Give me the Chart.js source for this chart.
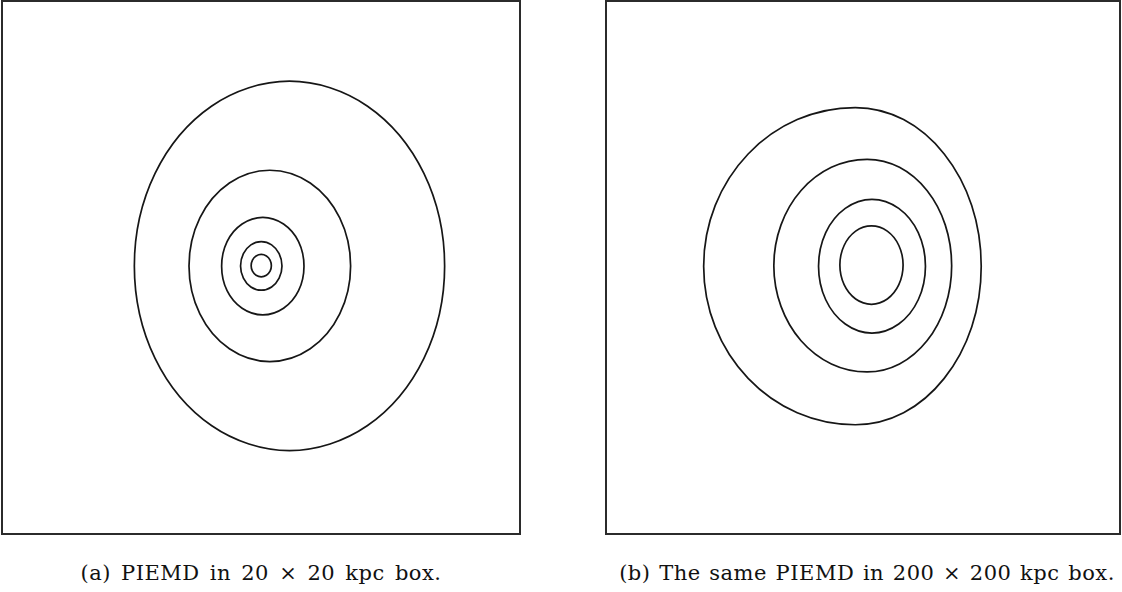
<!DOCTYPE html>
<html>
<head>
<meta charset="utf-8">
<script src="https://cdn.jsdelivr.net/npm/chart.js@4"></script>
<style>
  body { margin: 0; background: #fff; width: 1122px; height: 592px; position: relative; overflow: hidden; }
  canvas { position: absolute; top: 0; }
  #chartA { left: 0; }
  #chartB { left: 604px; }
  .caption {
    position: absolute; top: 561px; width: 520px; text-align: center;
    font-family: "DejaVu Serif", serif; font-size: 21px; line-height: 24px; color: #111;
    letter-spacing: 0.5px; word-spacing: 3px; white-space: nowrap;
  }
</style>
</head>
<body>
<canvas id="chartA" width="522" height="536"></canvas>
<canvas id="chartB" width="518" height="536"></canvas>
<div class="caption" style="left:1px">(a) PIEMD in 20 × 20 kpc box.</div>
<div class="caption" style="left:607px; word-spacing:1.5px">(b) The same PIEMD in 200 × 200 kpc box.</div>

<script>
// panel (a): 20 x 20 kpc box, contour levels (kpc)
const boxA = [-10, 10];
const aLevel1 = [[7.09, 0.06], [6.29, 3.53], [4.10, 6.06], [1.10, 6.99], [-1.90, 6.06], [-4.09, 3.53],
  [-4.89, 0.06], [-4.09, -3.41], [-1.90, -5.94], [1.10, -6.87], [4.10, -5.94], [6.29, -3.41]];
const aLevel2 = [[3.46, 0.06], [3.04, 1.86], [1.90, 3.17], [0.34, 3.65], [-1.22, 3.17], [-2.36, 1.86],
  [-2.78, 0.06], [-2.36, -1.74], [-1.22, -3.05], [0.34, -3.53], [1.90, -3.05], [3.04, -1.74]];
const aLevel3 = [[1.66, 0.05], [1.45, 0.97], [0.87, 1.63], [0.07, 1.88], [-0.73, 1.63], [-1.31, 0.97],
  [-1.52, 0.05], [-1.31, -0.87], [-0.73, -1.53], [0.07, -1.78], [0.87, -1.53], [1.45, -0.87]];
const aLevel4 = [[0.81, 0.06], [0.70, 0.52], [0.41, 0.85], [0.01, 0.97], [-0.39, 0.85], [-0.68, 0.52],
  [-0.79, 0.06], [-0.68, -0.40], [-0.39, -0.73], [0.01, -0.85], [0.41, -0.73], [0.70, -0.40]];
const aLevel5 = [[0.40, 0.07], [0.35, 0.28], [0.21, 0.43], [0.01, 0.49], [-0.19, 0.43], [-0.33, 0.28],
  [-0.38, 0.07], [-0.33, -0.14], [-0.19, -0.29], [0.01, -0.35], [0.21, -0.29], [0.35, -0.14]];

// panel (b): same profile in a 200 x 200 kpc box
const boxB = [-100, 100];
const bLevel1 = [[46.0, 0.5], [42.3, 23.3], [31.6, 42.6], [15.8, 55.5], [-3.0, 60.0], [-25.6, 55.5],
  [-44.7, 42.6], [-57.5, 23.3], [-62.0, 0.5], [-57.5, -22.3], [-44.7, -41.6], [-25.6, -54.5],
  [-3.0, -59.0], [15.8, -54.5], [31.6, -41.6], [42.3, -22.3]];
const bLevel2 = [[34.5, 0.7], [32.0, 16.0], [24.9, 28.9], [14.2, 37.6], [1.6, 40.6], [-12.3, 37.6],
  [-24.1, 28.9], [-31.9, 16.0], [-34.7, 0.7], [-31.9, -14.6], [-24.1, -27.5], [-12.3, -36.2],
  [1.6, -39.2], [14.2, -36.2], [24.9, -27.5], [32.0, -14.6]];
const bLevel3 = [[24.3, 0.5], [21.5, 13.1], [13.9, 22.2], [3.5, 25.6], [-6.9, 22.2], [-14.5, 13.1],
  [-17.3, 0.5], [-14.5, -12.1], [-6.9, -21.2], [3.5, -24.6], [13.9, -21.2], [21.5, -12.1]];
const bLevel4 = [[15.6, 0.9], [13.95, 8.25], [9.45, 13.63], [3.3, 15.6], [-2.85, 13.63], [-7.35, 8.25],
  [-9.0, 0.9], [-7.35, -6.45], [-2.85, -11.83], [3.3, -13.8], [9.45, -11.83], [13.95, -6.45]];

const lineColor = "#161616";
const frameColor = "#2b2b2b";

// closed contour: wrap one point on each side so the spline is smooth at the seam,
// then hide the two wrap segments
function contour(pts) {
  const n = pts.length;
  const data = [pts[n - 1], ...pts, pts[0], pts[1]].map(([x, y]) => ({ x, y }));
  const last = data.length - 1;
  return {
    data,
    showLine: true,
    pointRadius: 0,
    pointHoverRadius: 0,
    borderWidth: 1.7,
    borderColor: lineColor,
    tension: 0.35,
    fill: false,
    segment: {
      borderColor: (ctx) =>
        ctx.p0DataIndex === 0 || ctx.p1DataIndex === last ? "rgba(0,0,0,0)" : lineColor,
    },
  };
}

function frameAxis(axis, position, range) {
  return {
    type: "linear",
    axis,
    position,
    min: range[0],
    max: range[1],
    ticks: { display: false },
    grid: { display: false, drawTicks: false },
    border: { display: true, color: frameColor, width: 2 },
  };
}

function drawPanel(id, levels, range) {
  const ctx = document.getElementById(id).getContext("2d");
  new Chart(ctx, {
    type: "scatter",
    data: { datasets: levels.map(contour) },
    options: {
      responsive: false,
      animation: false,
      layout: { padding: { left: 2, right: 2, top: 1, bottom: 2 } },
      plugins: { legend: { display: false }, tooltip: { enabled: false } },
      scales: {
        x: frameAxis("x", "bottom", range),
        xTop: frameAxis("x", "top", range),
        y: frameAxis("y", "left", range),
        yRight: frameAxis("y", "right", range),
      },
    },
  });
}

drawPanel("chartA", [aLevel1, aLevel2, aLevel3, aLevel4, aLevel5], boxA);
drawPanel("chartB", [bLevel1, bLevel2, bLevel3, bLevel4], boxB);
</script>
</body>
</html>
